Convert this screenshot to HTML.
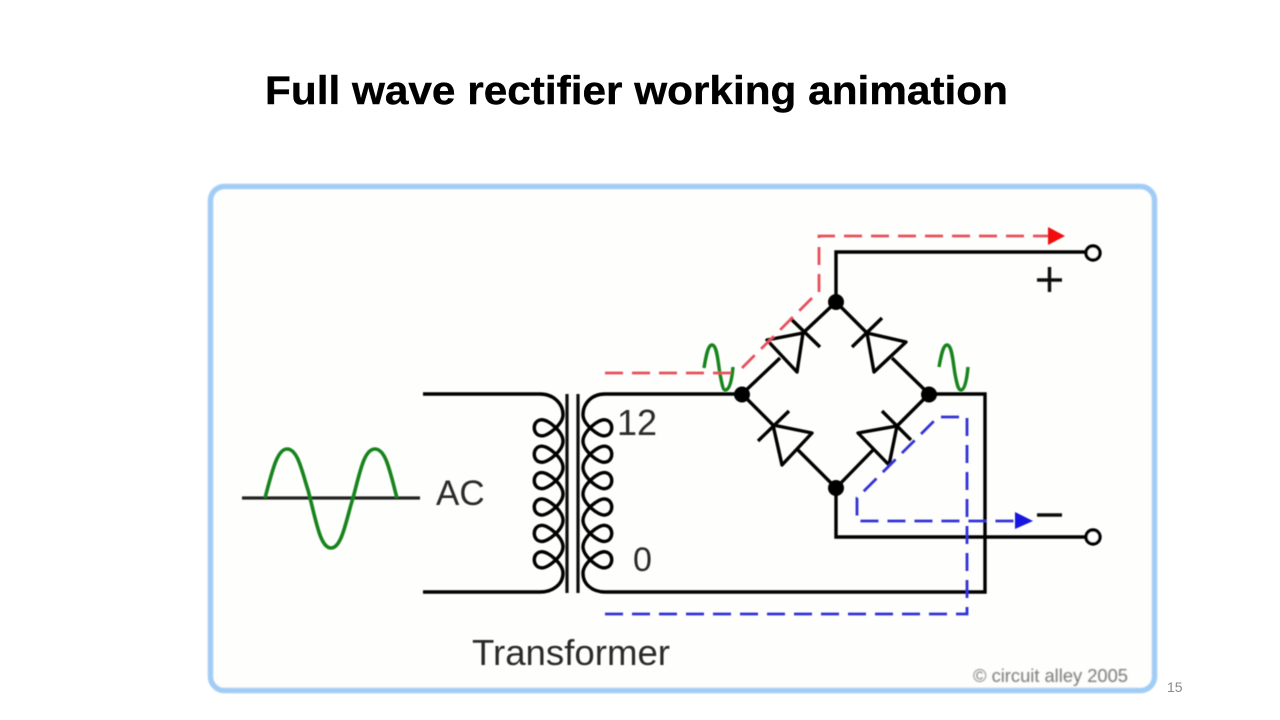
<!DOCTYPE html>
<html>
<head>
<meta charset="utf-8">
<title>Full wave rectifier working animation</title>
<style>
html,body{margin:0;padding:0;background:#fff;}
body{width:1280px;height:720px;overflow:hidden;}
svg{display:block;}
</style>
</head>
<body>
<svg width="1280" height="720" viewBox="0 0 1280 720" xmlns="http://www.w3.org/2000/svg">
<defs>
<filter id="b" x="-5%" y="-5%" width="110%" height="110%"><feGaussianBlur stdDeviation="0.55"/></filter>
<filter id="b2" x="-5%" y="-20%" width="110%" height="140%"><feGaussianBlur stdDeviation="0.7"/></filter>
<filter id="b3" x="-5%" y="-5%" width="110%" height="110%"><feGaussianBlur stdDeviation="0.9"/></filter>
</defs>

<text x="265" y="104" font-family="'Liberation Sans',sans-serif" font-weight="700" font-size="40" textLength="743" lengthAdjust="spacingAndGlyphs" fill="#000" stroke="#000" stroke-width="0.4">Full wave rectifier working animation</text>

<rect x="210.5" y="186.5" width="944" height="504" rx="14" ry="14" fill="#fefefc" stroke="#a0ccf6" stroke-width="5.5" filter="url(#b3)"/>

<g filter="url(#b)">
<!-- AC source -->
<path d="M242,498 H420" fill="none" stroke="#222" stroke-width="3.2"/>
<path d="M265,498 C272,472 277,449 287,449 C298,449 302,472 308,490 C316,520 320,548 331,548 C342,548 346,520 353,498 C360,472 364,449 375,449 C386,449 390,472 397,498" fill="none" stroke="#12831a" stroke-width="3.6"/>

<!-- Primary winding -->
<path d="M423,394 H540 C553,394 563,403 563,414.8
c0,9 -15,22 -22,21 c-9,-1 -9,-15 0,-16 c7,-1 22,12 22,21.4
c0,9 -15,22 -22,21 c-9,-1 -9,-15 0,-16 c7,-1 22,12 22,21.4
c0,9 -15,22 -22,21 c-9,-1 -9,-15 0,-16 c7,-1 22,12 22,21.4
c0,9 -15,22 -22,21 c-9,-1 -9,-15 0,-16 c7,-1 22,12 22,21.4
c0,9 -15,22 -22,21 c-9,-1 -9,-15 0,-16 c7,-1 22,12 22,21.4
c0,9 -15,22 -22,21 c-9,-1 -9,-15 0,-16 c7,-1 22,12 22,21.4
C563,584 553,592 540,592 H423" fill="none" stroke="#000" stroke-width="3.4"/>

<!-- Core -->
<path d="M567,394 V593 M578,394 V593" fill="none" stroke="#111" stroke-width="3.2"/>

<!-- Secondary winding and wires -->
<path d="M742,394 H605 C592,394 583,403 583,414.8
c0,9 15,22 22,21 c9,-1 9,-15 0,-16 c-7,-1 -22,12 -22,21.4
c0,9 15,22 22,21 c9,-1 9,-15 0,-16 c-7,-1 -22,12 -22,21.4
c0,9 15,22 22,21 c9,-1 9,-15 0,-16 c-7,-1 -22,12 -22,21.4
c0,9 15,22 22,21 c9,-1 9,-15 0,-16 c-7,-1 -22,12 -22,21.4
c0,9 15,22 22,21 c9,-1 9,-15 0,-16 c-7,-1 -22,12 -22,21.4
c0,9 15,22 22,21 c9,-1 9,-15 0,-16 c-7,-1 -22,12 -22,21.4
C583,584 592,592 605,592 H985 V394 H929" fill="none" stroke="#000" stroke-width="3.4"/>

<!-- Bridge wires -->
<path d="M742,394 L780,358 M803,333 L836,302 L867,333 M892,358 L929,394 L897,426 M873,450 L836,488 L798,450 M773,425 L742,394" fill="none" stroke="#000" stroke-width="3.4"/>
<!-- Diodes -->
<g fill="none" stroke="#000" stroke-width="3.4" stroke-linejoin="round">
<path d="M767,340 L803,333 L797,372 Z M790,318 L820,347"/>
<path d="M867,333 L906,342 L874,372 Z M852,347 L882,318"/>
<path d="M773,425 L812,433 L782,465 Z M758,441 L789,411"/>
<path d="M897,426 L858,433 L889,465 Z M882,411 L911,440"/>
</g>
<!-- Output wires -->
<path d="M836,302 V252 H1086 M836,488 V537 H1086" fill="none" stroke="#000" stroke-width="3.4"/>
<circle cx="1093" cy="253" r="7" fill="#fff" stroke="#000" stroke-width="3.4"/>
<circle cx="1093" cy="537" r="7" fill="#fff" stroke="#000" stroke-width="3.4"/>
<circle cx="742" cy="394.5" r="8" fill="#000"/>
<circle cx="836" cy="302" r="8" fill="#000"/>
<circle cx="929" cy="394.5" r="8" fill="#000"/>
<circle cx="836" cy="488" r="8" fill="#000"/>

<!-- plus / minus -->
<path d="M1037,280 H1062 M1049.5,267 V292 M1037,515 H1062" fill="none" stroke="#111" stroke-width="3.4"/>

<!-- Small waves -->
<path d="M704,368 C706,356 708,345 712,345 C717,345 718,362 720,374 C722,384 723,390 725,390 C730,390 732,378 733,367" fill="none" stroke="#12831a" stroke-width="3.4"/>
<path d="M939,367 C941,356 943,345 947,345 C952,345 953,362 955,374 C957,384 958,390 961,390 C965,390 967,378 968,367" fill="none" stroke="#12831a" stroke-width="3.4"/>

<!-- Red path -->
<path d="M605,373 H733 M742,368 L812,298 M819,292 V236 H1050" fill="none" stroke="#e8505c" stroke-width="2.8" stroke-dasharray="18 9"/>
<polygon points="1048,227 1065,236 1048,245" fill="#f01010"/>

<!-- Blue path -->
<path d="M605,614 H967 V417 H938 L857,498 V521 H1015" fill="none" stroke="#3030d8" stroke-width="2.8" stroke-dasharray="18 9"/>
<polygon points="1015,512 1033,521 1015,529" fill="#1414e0"/>

<!-- Labels -->
<g font-family="'Liberation Sans',sans-serif" fill="#2c2c2c">
<text x="436" y="505" font-size="35">AC</text>
<text x="617" y="435" font-size="36">12</text>
<text x="633" y="571" font-size="34">0</text>
<text x="472" y="665" font-size="36" textLength="198" lengthAdjust="spacingAndGlyphs">Transformer</text>
</g>
</g>

<text x="973" y="682" font-family="'Liberation Sans',sans-serif" font-size="18" textLength="155" lengthAdjust="spacingAndGlyphs" fill="#777" filter="url(#b2)">© circuit alley 2005</text>
<text x="1167" y="692" font-family="'Liberation Sans',sans-serif" font-size="14" fill="#8a8a8a">15</text>
</svg>
</body>
</html>
